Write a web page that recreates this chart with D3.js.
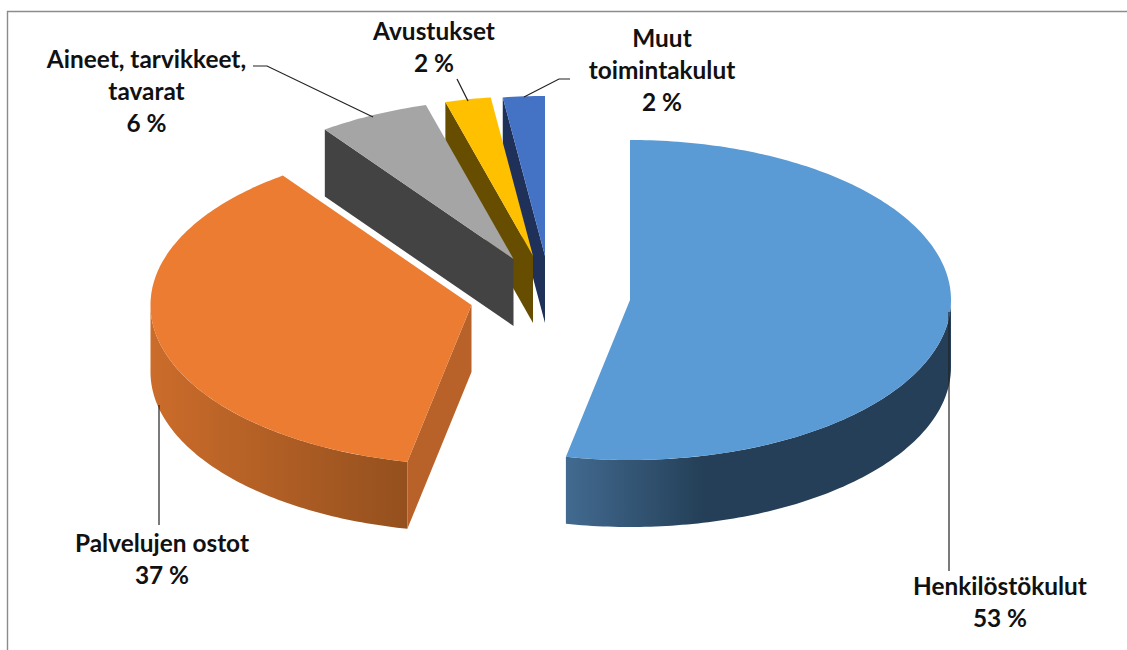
<!DOCTYPE html>
<html>
<head>
<meta charset="utf-8">
<style>html,body{margin:0;padding:0;background:#fff}svg{display:block}</style>
<script src="https://cdn.jsdelivr.net/npm/d3@7/dist/d3.min.js"></script>
</head>
<body>
<script>
// Data (slice shares; printed labels are rounded)
const categories = ["Henkilöstökulut", "Palvelujen ostot", "Aineet, tarvikkeet, tavarat", "Avustukset", "Muut toimintakulut"];
const shares = [53.2, 36.8, 5.6, 2.3, 2.1];
const shareLabels = ["53 %", "37 %", "6 %", "2 %", "2 %"];

// Styling
const topColors = ["#5b9bd5", "#eb7c31", "#a5a5a5", "#ffc000", "#4472c4"];
const cutColors = ["#255e91", "#b8622a", "#434343", "#664d00", "#1f3059"];

// Layout
const W = 1127, H = 650;
const rx = 321, ry = 160, depth = 67;
const apexes = [[630, 300], [471.5, 305], [513.5, 259], [533, 256], [545, 256]];
const labelLines = [["Henkilöstökulut", "53 %"], ["Palvelujen ostot", "37 %"], ["Aineet, tarvikkeet,", "tavarat", "6 %"], ["Avustukset", "2 %"], ["Muut", "toimintakulut", "2 %"]];
const labelPos = [[1000, 595], [162, 551.5], [146.5, 68], [434, 40], [662, 47]];
const lineGap = 32;
const leaders = [
  [[949, 312], [949, 571]],
  [[159, 405], [159, 525]],
  [[253, 66], [267, 66], [373, 117]],
  [[457, 79], [468, 101]],
  [[570, 79], [559, 79], [524, 97]]
];
const rimFills = [
  [[0, "#426a90"], [0.36, "#243f57"], [1, "#243f57"]],
  [[0, "#cb6c2b"], [1, "#94501e"]]
];

const svg = d3.select("body").append("svg").attr("width", W).attr("height", H);
const defs = svg.append("defs");

const pie = d3.pie().sort(null).value(d => d);
const arcs = pie(shares);

const pt = (i, a, dz = 0) => [apexes[i][0] + rx * Math.sin(a), apexes[i][1] - ry * Math.cos(a) + dz];
const arcPts = (i, a0, a1, dz = 0) => {
  const n = Math.max(8, Math.ceil(Math.abs(a1 - a0) * 60));
  return d3.range(n + 1).map(k => pt(i, a0 + (a1 - a0) * k / n, dz));
};
const line = d3.line();

// frame
svg.append("path").attr("d", line([[7.5, H], [7.5, 11.5], [W, 11.5]]))
  .attr("fill", "none").attr("stroke", "#8c8c8c").attr("stroke-width", 1.4);

// draw back to front
const order = [4, 3, 2, 1, 0];
order.forEach(i => {
  const d = arcs[i], g = svg.append("g");
  const [ax, ay] = apexes[i];
  const a0 = d.startAngle, a1 = d.endAngle;

  // outer rim: visible part lies on the front half of the ellipse
  const lo = Math.max(a0, Math.PI / 2), hi = Math.min(a1, Math.PI * 1.5);
  if (hi > lo && rimFills[i]) {
    const top = arcPts(i, lo, hi);
    const bot = arcPts(i, hi, lo, depth);
    const xs = top.map(p => p[0]);
    const id = "rim" + i;
    const grad = defs.append("linearGradient").attr("id", id)
      .attr("gradientUnits", "userSpaceOnUse")
      .attr("x1", d3.min(xs)).attr("x2", d3.max(xs)).attr("y1", 0).attr("y2", 0);
    rimFills[i].forEach(s => grad.append("stop").attr("offset", s[0]).attr("stop-color", s[1]));
    g.append("path").attr("d", line(top.concat(bot)) + "Z").attr("fill", `url(#${id})`);
  }

  // cut face towards the viewer
  if (i > 0) {
    const e = pt(i, a0);
    g.append("path").attr("d", line([[ax, ay], e, [e[0], e[1] + depth], [ax, ay + depth]]) + "Z")
      .attr("fill", cutColors[i]);
  }

  // top face
  g.append("path").attr("d", line([[ax, ay], ...arcPts(i, a0, a1)]) + "Z").attr("fill", topColors[i]);
});

// leader lines
leaders.forEach(pts => svg.append("path").attr("d", line(pts))
  .attr("fill", "none").attr("stroke", "#222").attr("stroke-width", 1.2));

// labels
labelLines.forEach((ls, i) => {
  const t = svg.append("text").attr("text-anchor", "middle")
    .attr("font-family", "Lato, 'Noto Sans', sans-serif").attr("font-weight", 700)
    .attr("font-size", 24.4).attr("fill", "#111");
  ls.forEach((s, k) => t.append("tspan").attr("x", labelPos[i][0]).attr("y", labelPos[i][1] + k * lineGap).text(s));
});
</script>
</body>
</html>
